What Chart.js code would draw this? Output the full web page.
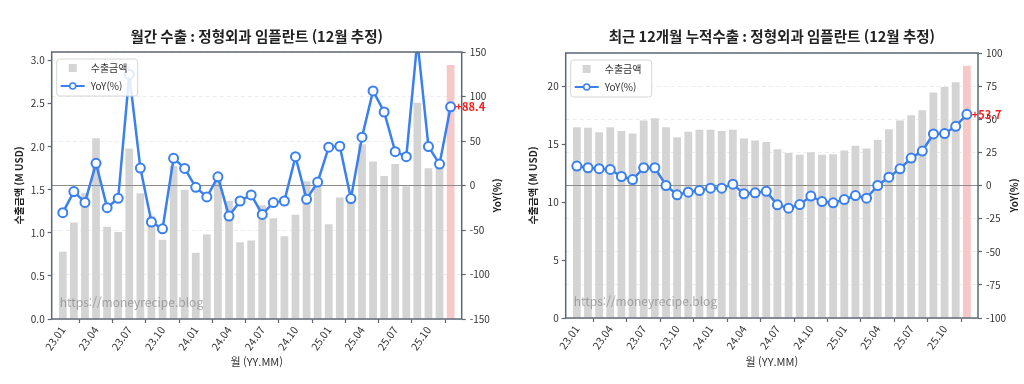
<!DOCTYPE html>
<html lang="ko">
<head>
<meta charset="UTF-8">
<title>정형외과 임플란트 수출</title>
<script src="https://cdn.jsdelivr.net/npm/chart.js"></script>
<style>
  body { margin: 0; background: #fff; }
  .panel { position: absolute; top: 0; width: 512px; height: 384px; }
</style>
</head>
<body>
<div class="panel" style="left:0"><canvas id="monthly" width="512" height="384"></canvas></div>
<div class="panel" style="left:512px"><canvas id="rolling" width="512" height="384"></canvas></div>
<script>
// 월 라벨 (YY.MM)
const months = ['23.01','23.02','23.03','23.04','23.05','23.06','23.07','23.08','23.09','23.10','23.11','23.12',
                '24.01','24.02','24.03','24.04','24.05','24.06','24.07','24.08','24.09','24.10','24.11','24.12',
                '25.01','25.02','25.03','25.04','25.05','25.06','25.07','25.08','25.09','25.10','25.11','25.12'];
const monthTicks = ['23.01','23.04','23.07','23.10','24.01','24.04','24.07','24.10','25.01','25.04','25.07','25.10'];

// 월간 수출 (M USD) / YoY(%)
const monthlyExport = [0.78, 1.12, 1.46, 2.10, 1.07, 1.01, 1.98, 1.46, 1.20, 0.92, 1.78, 1.50,
                       0.77, 0.98, 1.60, 1.37, 0.89, 0.91, 1.32, 1.17, 0.96, 1.21, 1.60, 1.54,
                       1.10, 1.41, 1.41, 2.03, 1.83, 1.66, 1.80, 1.54, 2.51, 1.75, 1.81, 2.95];
const monthlyYoY = [-30.5, -6.8, -19.0, 24.9, -24.9, -14.4, 124.8, 19.6, -41.0, -48.7, 30.5, 19.2,
                    -2.0, -12.9, 9.7, -34.4, -17.4, -10.6, -32.5, -19.2, -17.4, 32.4, -15.5, 3.8,
                    43.0, 44.1, -14.7, 54.3, 106.3, 82.6, 38.0, 32.4, 163.0, 43.7, 24.1, 88.4];

// 최근 12개월 누적 수출 (M USD) / YoY(%)
const rollingExport = [16.49, 16.43, 16.06, 16.49, 16.15, 15.94, 17.06, 17.27, 16.49, 15.63, 16.09, 16.26,
                       16.26, 16.15, 16.26, 15.51, 15.34, 15.20, 14.59, 14.25, 14.10, 14.33, 14.10, 14.16,
                       14.47, 14.88, 14.65, 15.40, 16.32, 17.06, 17.53, 17.96, 19.48, 19.97, 20.38, 21.79];
const rollingYoY = [14.7, 13.4, 12.7, 12.1, 6.8, 4.5, 13.4, 13.4, 0.0, -7.0, -5.0, -3.8,
                    -2.0, -2.0, 1.0, -6.3, -5.5, -4.4, -14.6, -17.1, -14.4, -8.0, -12.1, -13.1,
                    -10.6, -7.6, -9.6, 0.0, 6.3, 12.6, 20.7, 26.0, 38.9, 39.2, 44.7, 53.7];

const FONT = "'Noto Sans CJK KR', 'Noto Sans', sans-serif";
const FRAME = '#5e6676';
const BLUE = '#3a80f0';
const GRAY_BAR = '#d4d4d4';
const PINK_BAR = '#f6c8c8';

Chart.defaults.font.family = FONT;
Chart.defaults.font.size = 10;
Chart.defaults.color = '#333';

// 제목, 축 제목, 범례, 워터마크, 마지막 값 라벨
const decor = {
  id: 'decor',
  afterDatasetDraw(chart, args, o) {
    if (args.index !== 1) return;
    // YoY 0 기준선 (막대 위, 선 아래)
    const ca = chart.chartArea, ctx = chart.ctx;
    const y0 = chart.scales.y1.getPixelForValue(0);
    ctx.save();
    ctx.strokeStyle = '#8c8c8c';
    ctx.lineWidth = 1;
    ctx.beginPath();
    ctx.moveTo(ca.left, y0);
    ctx.lineTo(ca.right, y0);
    ctx.stroke();
    ctx.restore();
  },
  afterDraw(chart, args, o) {
    const ca = chart.chartArea, ctx = chart.ctx;
    ctx.save();

    // 테두리
    ctx.strokeStyle = FRAME;
    ctx.lineWidth = 1.5;
    ctx.strokeRect(ca.left, ca.top, ca.right - ca.left, ca.bottom - ca.top);

    // 제목
    ctx.fillStyle = '#222';
    ctx.textAlign = 'center';
    ctx.textBaseline = 'middle';
    ctx.font = 'bold 14.5px ' + FONT;
    ctx.fillText(o.title, (ca.left + ca.right) / 2, 36);

    // x축 제목
    ctx.font = '11px ' + FONT;
    ctx.fillStyle = '#333';
    ctx.fillText('월 (YY.MM)', (ca.left + ca.right) / 2, 362);

    // y축 제목 (좌/우)
    ctx.font = 'bold 10px ' + FONT;
    ctx.fillStyle = '#222';
    ctx.save();
    ctx.translate(ca.left - 32, (ca.top + ca.bottom) / 2);
    ctx.rotate(-Math.PI / 2);
    ctx.fillText('수출금액 (M USD)', 0, 0);
    ctx.restore();
    ctx.save();
    ctx.translate(ca.right + 36, (ca.top + ca.bottom) / 2 + 10);
    ctx.rotate(-Math.PI / 2);
    ctx.fillText('YoY(%)', 0, 0);
    ctx.restore();

    // 워터마크
    ctx.textAlign = 'left';
    ctx.font = '12px ' + FONT;
    ctx.fillStyle = 'rgba(120,120,120,0.6)';
    ctx.fillText('https://moneyrecipe.blog', ca.left + 8, ca.bottom - 17);

    // 범례
    const lx = ca.left + 5, ly = ca.top + 7;
    ctx.fillStyle = 'rgba(255,255,255,0.85)';
    ctx.strokeStyle = '#d6d6d6';
    ctx.lineWidth = 1;
    ctx.beginPath();
    ctx.roundRect(lx, ly, 81, 37, 3);
    ctx.fill();
    ctx.stroke();
    ctx.fillStyle = GRAY_BAR;
    ctx.fillRect(lx + 12, ly + 5, 8, 8);
    ctx.strokeStyle = BLUE;
    ctx.lineWidth = 2;
    ctx.beginPath();
    ctx.moveTo(lx + 4, ly + 27);
    ctx.lineTo(lx + 28, ly + 27);
    ctx.stroke();
    ctx.fillStyle = '#fff';
    ctx.lineWidth = 1.5;
    ctx.beginPath();
    ctx.arc(lx + 16, ly + 27, 3, 0, Math.PI * 2);
    ctx.fill();
    ctx.stroke();
    ctx.fillStyle = '#333';
    ctx.font = '10px ' + FONT;
    ctx.fillText('수출금액', lx + 34, ly + 9);
    ctx.fillText('YoY(%)', lx + 34, ly + 27);

    // 마지막 YoY 값
    const meta = chart.getDatasetMeta(0);
    const last = meta.data[meta.data.length - 1];
    const v = chart.data.datasets[0].data[meta.data.length - 1].y;
    ctx.fillStyle = '#ff1a1a';
    ctx.font = 'bold 11px ' + FONT;
    ctx.fillText('+' + v.toFixed(1), last.x + 5, last.y);

    ctx.restore();
  }
};

function makeChart(id, title, exportVals, yoyVals, yMax, yStep, y1Min, y1Max, y1Step, box) {
  const n = exportVals.length;
  new Chart(document.getElementById(id), {
    type: 'bar',
    data: {
      datasets: [{
        type: 'line',
        label: 'YoY(%)',
        data: yoyVals.map((v, i) => ({ x: i, y: v })),
        yAxisID: 'y1',
        borderColor: BLUE,
        borderWidth: 2.5,
        pointRadius: 4.5,
        pointBorderWidth: 2,
        pointBackgroundColor: '#fff',
        pointBorderColor: BLUE,
        tension: 0,
        order: 1
      }, {
        label: '수출금액',
        data: exportVals.map((v, i) => ({ x: i, y: v })),
        yAxisID: 'y',
        backgroundColor: exportVals.map((v, i) => i === n - 1 ? PINK_BAR : GRAY_BAR),
        barPercentage: 0.7,
        categoryPercentage: 1,
        order: 2
      }]
    },
    options: {
      responsive: false,
      animation: false,
      devicePixelRatio: 1,
      layout: { padding: { top: box.top, left: 0, right: 0, bottom: 0 } },
      plugins: {
        legend: { display: false },
        tooltip: { enabled: false },
        decor: { title: title }
      },
      scales: {
        x: {
          type: 'linear',
          offset: false,
          min: -1,
          max: n,
          afterBuildTicks: s => { s.ticks = monthTicks.map(m => ({ value: months.indexOf(m) })); },
          afterFit: s => { s.height = box.bottom; },
          ticks: {
            autoSkip: false,
            minRotation: 55,
            maxRotation: 55,
            padding: 1,
            font: { size: 10.5 },
            callback: v => months[v]
          },
          grid: { drawOnChartArea: false, tickLength: 4, tickColor: FRAME, tickWidth: 1.2 },
          border: { display: false }
        },
        y: {
          position: 'left',
          min: 0,
          max: yMax,
          ticks: {
            stepSize: yStep,
            includeBounds: false,
            padding: 3,
            callback: v => yStep < 1 ? v.toFixed(1) : v
          },
          afterFit: s => { s.width = box.left; },
          grid: { drawOnChartArea: false, tickLength: 4, tickColor: FRAME, tickWidth: 1.2 },
          border: { display: false }
        },
        y1: {
          position: 'right',
          min: y1Min,
          max: y1Max,
          ticks: { stepSize: y1Step, padding: 4 },
          afterFit: s => { s.width = box.right; },
          grid: { color: '#e8e8e8', lineWidth: 0.8, tickLength: 4, tickColor: FRAME, tickWidth: 1.2 },
          border: { display: false, dash: [4, 3] }
        }
      }
    },
    plugins: [decor]
  });
}

makeChart('monthly', '월간 수출 : 정형외과 임플란트 (12월 추정)',
  monthlyExport, monthlyYoY, 3.1, 0.5, -150, 150, 50,
  { top: 52, left: 51.7, right: 50.3, bottom: 65 });

makeChart('rolling', '최근 12개월 누적수출 : 정형외과 임플란트 (12월 추정)',
  rollingExport, rollingYoY, 22.9, 5, -100, 100, 25,
  { top: 53, left: 53.7, right: 46, bottom: 66 });
</script>
</body>
</html>
